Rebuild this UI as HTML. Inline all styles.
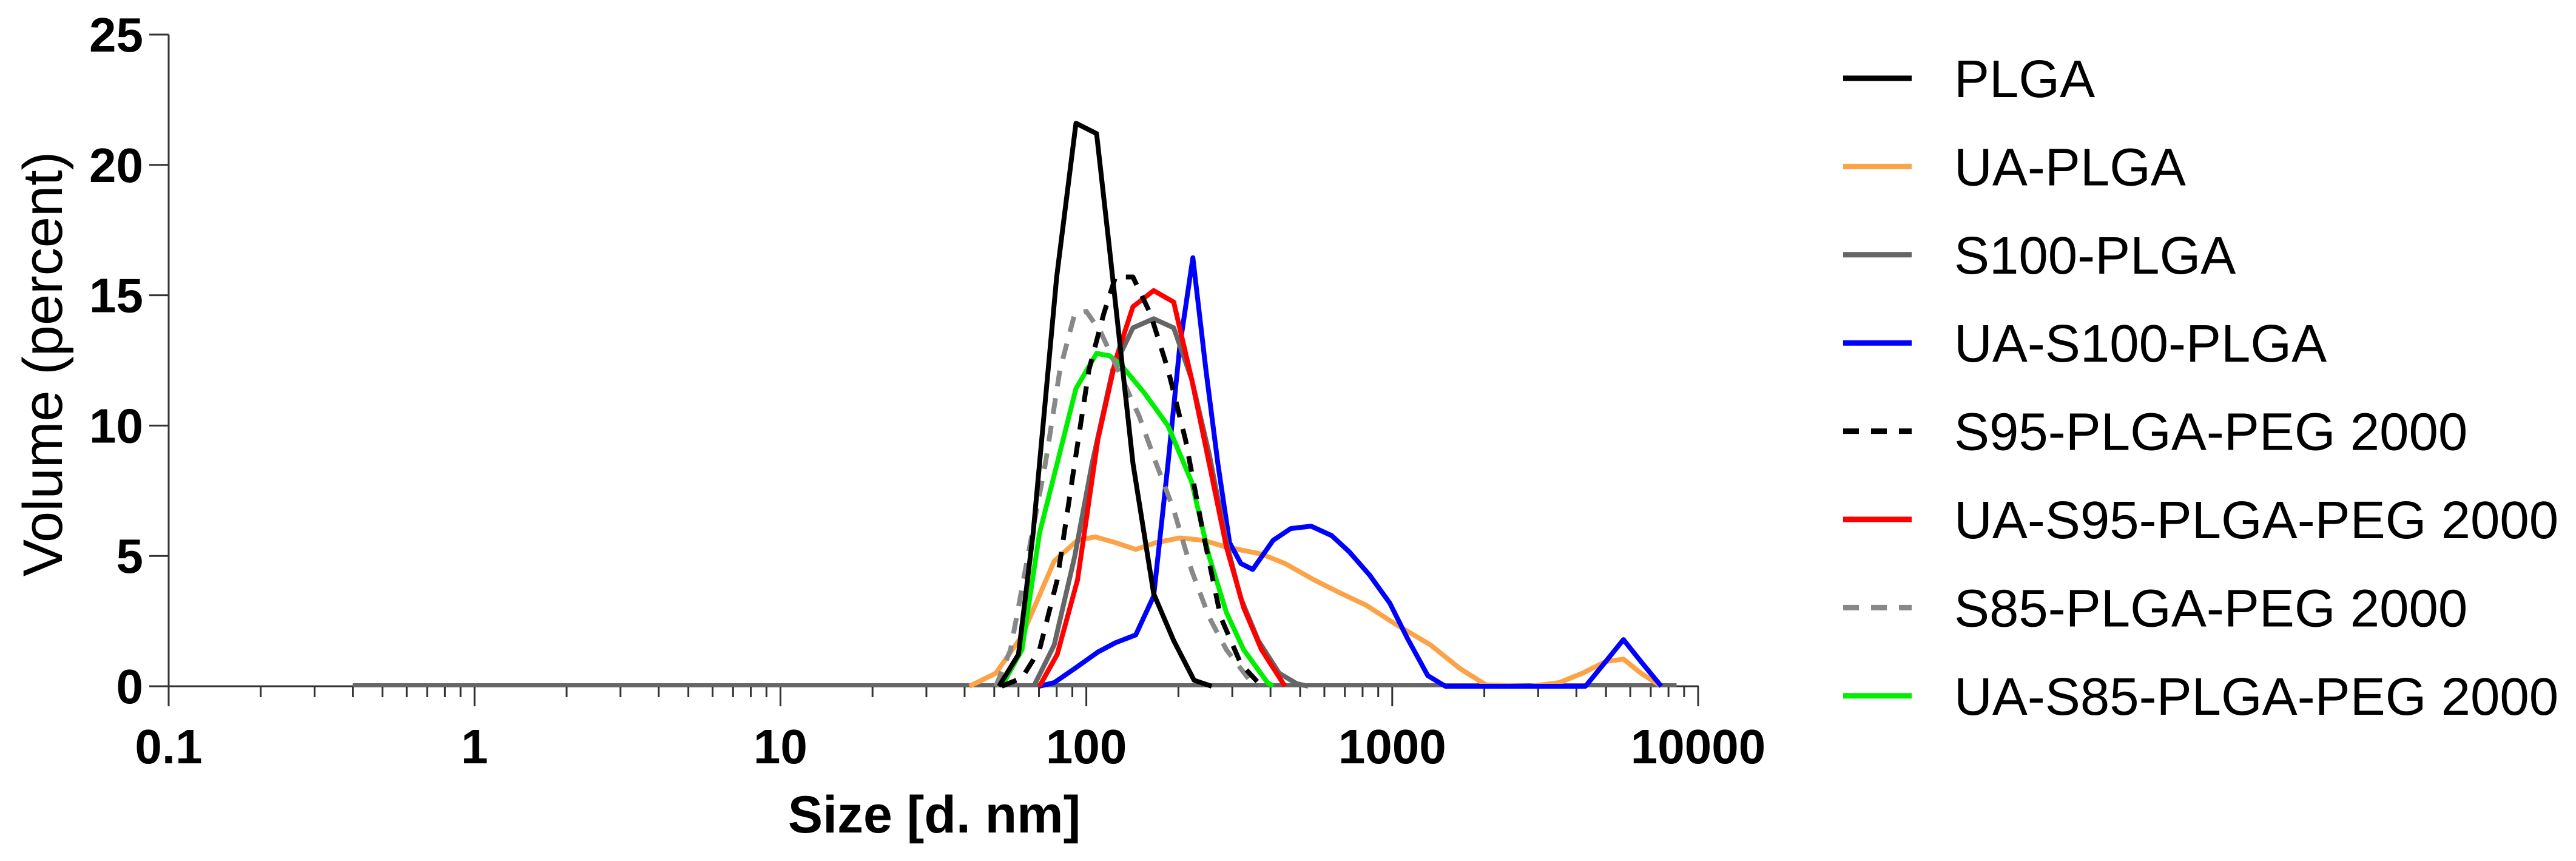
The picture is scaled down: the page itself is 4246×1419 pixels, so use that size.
<!DOCTYPE html>
<html><head><meta charset="utf-8"><style>
html,body{margin:0;padding:0;background:#fff;}
svg{display:block;font-family:"Liberation Sans",Arial,sans-serif;}
</style></head><body>
<svg id="chart" width="4246" height="1419" viewBox="0 0 4246 1419" xmlns="http://www.w3.org/2000/svg">
<g id="axes"></g>
<g id="series"></g>
<g id="legend"></g>
<text x="0" y="0" transform="translate(102,600) rotate(-90)" text-anchor="middle" font-size="92">Volume (percent)</text>
<text x="1540" y="1372" text-anchor="middle" font-size="86" font-weight="bold">Size [d. nm]</text>
</svg>
<script>
const xTickValues=[0.1,1,10,100,1000,10000];
const xTickLabels=["0.1","1","10","100","1000","10000"];
const yTickValues=[0,5,10,15,20,25];
const seriesNames=["PLGA","UA-PLGA","S100-PLGA","UA-S100-PLGA","S95-PLGA-PEG 2000","UA-S95-PLGA-PEG 2000","S85-PLGA-PEG 2000","UA-S85-PLGA-PEG 2000"];
const plgaSize=[51.8,60,67,80,92.5,108,119,142,166,193,225,257];
const plgaVol=[0,1.22,5.87,15.7,21.6,21.2,16.8,8.56,3.55,1.75,0.23,0];
const uaPlgaSize=[41.5,50.6,61.6,78.5,93.6,106.9,124.5,145,169,202,241,287,374,446,555,662,824,1026,1336,1664,2028,2818,3515,4190,4990,5700,6500,7580];
const uaPlgaVol=[0,0.5,1.93,4.8,5.6,5.73,5.51,5.25,5.51,5.69,5.6,5.34,5.07,4.71,4.08,3.63,3.1,2.38,1.58,0.68,0.05,0,0.14,0.5,0.95,1.04,0.5,0];
const s100Size=[67.3,78.5,91.6,104.5,122,142,166,193,221,252,287,320,365,427,487,531];
const s100Vol=[0,1.58,4.98,8.56,12.14,13.75,14.1,13.75,11.78,8.92,5.51,3.37,1.75,0.5,0.1,0];
const uaS100Size=[70.3,78.5,91.6,109,124.5,145,166,185,202,223,246,269,294,320,350,408,466,543,634,723,844,982,1121,1307,1492,4285,4990,5700,6500,7580];
const uaS100Vol=[0,0.14,0.68,1.31,1.67,1.97,3.46,8.56,13.03,16.44,12.14,8.56,5.51,4.71,4.48,5.6,6.05,6.14,5.78,5.16,4.26,3.19,1.84,0.41,0,0,0.95,1.79,0.95,0];
const s95Size=[52.9,61.6,70.3,80.3,91.6,102,114,124.5,142,162,185,211,241,275,320,374];
const s95Vol=[0,0.32,1.4,4.08,8.56,12.14,14.29,15.7,15.7,14.29,12.14,9.45,5.87,2.65,0.86,0];
const uaS95Size=[70.3,80.3,93.6,109,124.5,142,166,193,221,252,287,327,374,446];
const uaS95Vol=[0,1.22,4.08,9.45,12.5,14.56,15.18,14.74,11.78,8.56,5.34,3.01,1.4,0];
const s85Size=[50.6,56.5,64.4,73.5,82,91.6,100,111.6,127,149,169,193,221,252,287,342,365];
const s85Vol=[0,1.4,4.98,8.56,12.14,14.29,14.38,13.57,12.14,10.35,8.56,6.77,4.44,2.65,1.4,0.23,0];
const uaS85Size=[52.9,61.6,70.3,80.3,92.5,108,119,130,155,185,221,252,287,327,391,408];
const uaS85Vol=[0,1.4,5.87,8.56,11.42,12.77,12.68,12.32,11.24,9.99,7.84,4.98,2.83,1.4,0.14,0];

const NS="http://www.w3.org/2000/svg";
const X0=278,DEC=504.2,Y0=1131,PY=42.96;
function sx(v){return X0+(Math.log10(v)+1)*DEC;}
function sy(v){return Y0-v*PY;}
function mk(tag,attrs,parent){const e=document.createElementNS(NS,tag);for(const k in attrs)e.setAttribute(k,attrs[k]);parent.appendChild(e);return e;}
const axes=document.getElementById('axes');
let e;
e=mk('line',{x1:X0,y1:sy(25),x2:X0,y2:Y0+33,stroke:'#333','stroke-width':3},axes);


e=mk('line',{x1:X0,y1:Y0,x2:sx(10000)+1,y2:Y0,stroke:'#333','stroke-width':3},axes);


yTickValues.forEach(v=>{
  const t=mk('line',{x1:X0-32,y1:sy(v),x2:X0,y2:sy(v),stroke:'#333','stroke-width':3},axes);
  
  
  const l=mk('text',{x:236,y:sy(v)+28,'text-anchor':'end','font-size':80,'font-weight':'bold'},axes);
  l.textContent=String(v);
  
  
});
xTickValues.forEach((v,i)=>{
  const t=mk('line',{x1:sx(v),y1:Y0,x2:sx(v),y2:Y0+33,stroke:'#333','stroke-width':3},axes);
  
  
  const l=mk('text',{x:sx(v),y:1258,'text-anchor':'middle','font-size':80,'font-weight':'bold'},axes);
  l.textContent=xTickLabels[i];
  
  
  if(i<xTickValues.length-1){for(let m=2;m<=9;m++){
    const mt=mk('line',{x1:sx(v*m),y1:Y0,x2:sx(v*m),y2:Y0+18,stroke:'#333','stroke-width':3},axes);
    
    
  }}
});
const sg=document.getElementById('series');
e=mk('line',{x1:sx(0.4),y1:Y0-2,x2:sx(8500),y2:Y0-2,stroke:'#666','stroke-width':6},sg);


const defs=[
 [uaPlgaSize,uaPlgaVol,'#FBA346',null,'ua-plga-line'],
 [uaS100Size,uaS100Vol,'#0000FF',null,'ua-s100-plga-line'],
 [s100Size,s100Vol,'#666666',null,'s100-plga-line'],
 [uaS95Size,uaS95Vol,'#FF0000',null,'ua-s95-plga-peg-line'],
 [uaS85Size,uaS85Vol,'#00EE00',null,'ua-s85-plga-peg-line'],
 [s85Size,s85Vol,'#888888','26 20','s85-plga-peg-line'],
 [s95Size,s95Vol,'#000000','26 20','s95-plga-peg-line'],
 [plgaSize,plgaVol,'#000000',null,'plga-line']
];
defs.forEach(d=>{
  const pts=d[0].map((s,i)=>sx(s).toFixed(1)+','+sy(d[1][i]).toFixed(1)).join(' ');
  const a={points:pts,fill:'none',stroke:d[2],'stroke-width':8,'stroke-linejoin':'round'};
  if(d[3])a['stroke-dasharray']=d[3];
  const p=mk('polyline',a,sg);
  
  
});
const lg=document.getElementById('legend');
const legColors=['#000000','#FBA346','#666666','#0000FF','#000000','#FF0000','#888888','#00EE00'];
const legDash=[null,null,null,null,'26 20',null,'26 20',null];
seriesNames.forEach((n,i)=>{
  const y=129+i*145.4;
  const a={x1:3038,y1:y,x2:3151,y2:y,stroke:legColors[i],'stroke-width':9};
  if(legDash[i])a['stroke-dasharray']=legDash[i];
  const l=mk('line',a,lg);
  
  
  const t=mk('text',{x:3221,y:y+31,'font-size':87},lg);
  t.textContent=n;
  
  
});
</script>
</body></html>
